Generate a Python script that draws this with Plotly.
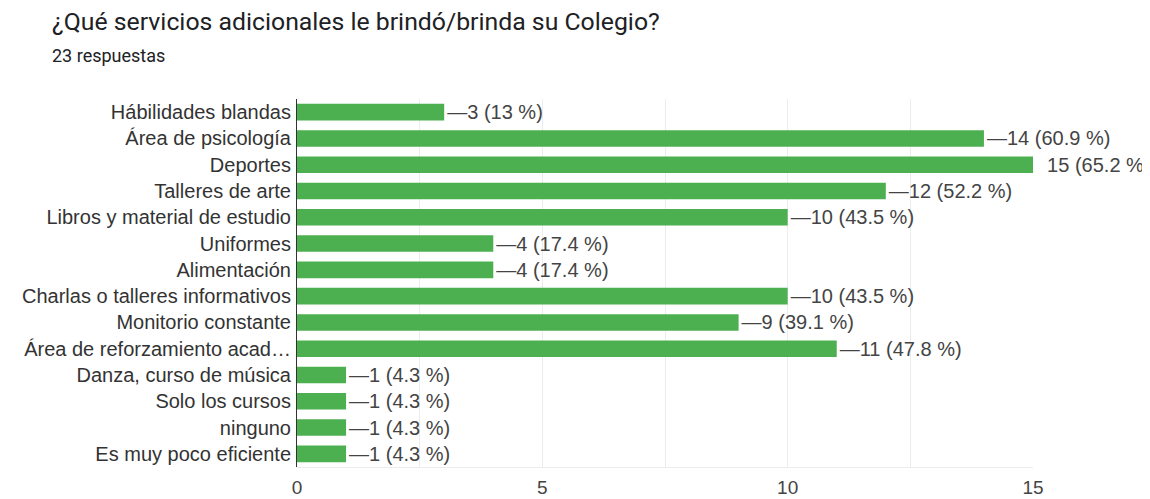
import plotly.graph_objects as go

categories = [
    "Hábilidades blandas",
    "Área de psicología",
    "Deportes",
    "Talleres de arte",
    "Libros y material de estudio",
    "Uniformes",
    "Alimentación",
    "Charlas o talleres informativos",
    "Monitorio constante",
    "Área de reforzamiento acad…",
    "Danza, curso de música",
    "Solo los cursos",
    "ninguno",
    "Es muy poco eficiente",
]
counts = [3, 14, 15, 12, 10, 4, 4, 10, 9, 11, 1, 1, 1, 1]
percents = ["13", "60.9", "65.2", "52.2", "43.5", "17.4", "17.4", "43.5", "39.1", "47.8", "4.3", "4.3", "4.3", "4.3"]
total = 23
x_ticks = [0, 5, 10, 15]

labels = []
for c, p in zip(counts, percents):
    if c == max(counts):
        labels.append(f"  {c} ({p} %)")
    else:
        labels.append(f"—{c} ({p} %)")

TFONT = "Roboto, Arial, sans-serif"
AFONT = "Liberation Sans, Arial, sans-serif"

fig = go.Figure(
    go.Bar(
        y=categories,
        x=counts,
        orientation="h",
        marker=dict(color="#4caf50", line=dict(width=0)),
        text=labels,
        textposition="outside",
        constraintext="none",
        textfont=dict(family=AFONT, size=20, color="#444444"),
        cliponaxis=False,
        width=0.63,
        hoverinfo="skip",
    )
)

# the page body has an 8px margin, so figure coordinates are offset by 8px
L, R, T, B = 289, 125, 91, 40
PW, PH = 1150 - L - R, 499 - T - B

fig.update_layout(
    width=1150,
    height=499,
    margin=dict(l=L, r=R, t=T, b=B, autoexpand=False),
    paper_bgcolor="white",
    plot_bgcolor="white",
    showlegend=False,
    font=dict(family=AFONT, color="#333333"),
)

fig.add_annotation(
    text="¿Qué servicios adicionales le brindó/brinda su Colegio?",
    xref="paper", yref="paper", x=(42 - L) / PW, y=1 + (T - 14) / PH,
    xanchor="left", yanchor="middle", showarrow=False,
    font=dict(family=TFONT, size=24.8, color="#202124"),
)
fig.add_annotation(
    text="23 respuestas",
    xref="paper", yref="paper", x=(42 - L) / PW, y=1 + (T - 48) / PH,
    xanchor="left", yanchor="middle", showarrow=False,
    font=dict(family=TFONT, size=18, color="#202124"),
)

fig.update_xaxes(
    range=[0, 15],
    tickvals=x_ticks,
    showgrid=True,
    gridcolor="#ececec",
    gridwidth=1,
    minor=dict(dtick=2.5, tick0=0, showgrid=True, gridcolor="#ececec", gridwidth=1),
    zeroline=False,
    showline=True,
    linecolor="#ececec",
    linewidth=1,
    ticks="",
    tickfont=dict(family=AFONT, size=19, color="#444444"),
    ticklabelstandoff=3,
    automargin=False,
)
fig.update_yaxes(
    autorange="reversed",
    showgrid=False,
    showline=True,
    linecolor="#333333",
    linewidth=1,
    ticks="",
    tickfont=dict(family=AFONT, size=20, color="#333333"),
    ticklabelstandoff=1,
    automargin=False,
)

fig.write_html("out.html")
